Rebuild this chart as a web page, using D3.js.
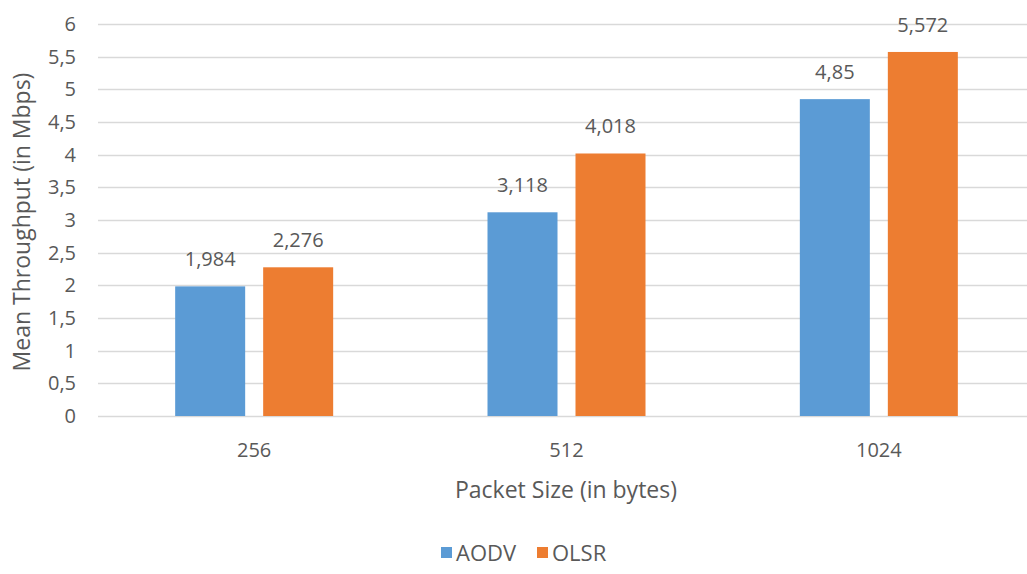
<!DOCTYPE html>
<html>
<head>
<meta charset="utf-8">
<script src="https://cdn.jsdelivr.net/npm/d3@7"></script>
<style>
  html, body { margin: 0; padding: 0; background: #fff; }
  svg { display: block; }
  text { font-family: "Open Sans", "Liberation Sans", sans-serif; fill: #595959; }
</style>
</head>
<body>
<svg id="chart" width="1027" height="574"></svg>
<script>
// Packet sizes on the x axis
const categories = ["256", "512", "1024"];
// Mean throughput per routing protocol (Mbps)
const seriesNames = ["AODV", "OLSR"];
const aodv = [1.984, 3.118, 4.85];
const olsr = [2.276, 4.018, 5.572];
// Labels as printed (decimal comma)
const aodvLabels = ["1,984", "3,118", "4,85"];
const olsrLabels = ["2,276", "4,018", "5,572"];
const yTicks = [0, 0.5, 1, 1.5, 2, 2.5, 3, 3.5, 4, 4.5, 5, 5.5, 6];
const yTickLabels = ["0", "0,5", "1", "1,5", "2", "2,5", "3", "3,5", "4", "4,5", "5", "5,5", "6"];

const colors = { AODV: "#5B9BD5", OLSR: "#ED7D31" };

const svg = d3.select("#chart");
const W = 1027, H = 574;
const plot = { left: 98, right: 1035, top: 24, bottom: 416 };

const x = d3.scaleBand().domain(categories).range([plot.left, plot.right]).paddingInner(0).paddingOuter(0);
const groupWidth = 158;
const xs = d3.scaleBand().domain(seriesNames).range([0, groupWidth]).paddingInner(0.2045);
const y = d3.scaleLinear().domain([0, 6]).range([plot.bottom, plot.top]);

// Horizontal gridlines
svg.append("g").selectAll("line").data(yTicks).join("line")
  .attr("x1", plot.left).attr("x2", W)
  .attr("y1", d => Math.round(y(d)) + 0.5).attr("y2", d => Math.round(y(d)) + 0.5)
  .attr("stroke", "#D9D9D9").attr("stroke-width", 1.5);

// Y tick labels
svg.append("g").selectAll("text").data(yTicks).join("text")
  .attr("x", 76).attr("y", d => y(d))
  .attr("dy", "0.35em").attr("text-anchor", "end")
  .style("font-size", "20px")
  .text((d, i) => yTickLabels[i]);

// Bars and value labels
const rows = categories.map((c, i) => ({
  cat: c,
  vals: [
    { s: "AODV", v: aodv[i], label: aodvLabels[i] },
    { s: "OLSR", v: olsr[i], label: olsrLabels[i] }
  ]
}));

const groups = svg.append("g").selectAll("g").data(rows).join("g")
  .attr("transform", d => `translate(${x(d.cat) + (x.bandwidth() - groupWidth) / 2},0)`);

groups.selectAll("rect").data(d => d.vals).join("rect")
  .attr("x", d => xs(d.s)).attr("width", xs.bandwidth())
  .attr("y", d => y(d.v)).attr("height", d => y(0) - y(d.v))
  .attr("fill", d => colors[d.s]);

groups.selectAll("text").data(d => d.vals).join("text")
  .attr("x", d => xs(d.s) + xs.bandwidth() / 2)
  .attr("y", d => y(d.v) - 20)
  .attr("text-anchor", "middle")
  .style("font-size", "20px")
  .text(d => d.label);

// X category labels
svg.append("g").selectAll("text").data(categories).join("text")
  .attr("x", d => x(d) + x.bandwidth() / 2).attr("y", 450)
  .attr("text-anchor", "middle").attr("dy", "0.35em")
  .style("font-size", "20px")
  .text(d => d);

// Axis titles
svg.append("text")
  .attr("x", 566).attr("y", 490).attr("dy", "0.35em")
  .attr("text-anchor", "middle")
  .style("font-size", "23px")
  .text("Packet Size (in bytes)");

svg.append("text")
  .attr("transform", "translate(22,222) rotate(-90)")
  .attr("dy", "0.35em")
  .attr("text-anchor", "middle")
  .style("font-size", "23px")
  .text("Mean Throughput (in Mbps)");

// Legend
const legend = svg.append("g").attr("transform", "translate(441,553)");
const legendX = [0, 96];
seriesNames.forEach((s, i) => {
  const g = legend.append("g").attr("transform", `translate(${legendX[i]},0)`);
  g.append("rect").attr("x", 0).attr("y", -6).attr("width", 11).attr("height", 11).attr("fill", colors[s]);
  g.append("text").attr("x", 15).attr("y", 0).attr("dy", "0.35em")
    .style("font-size", "22px").text(s);
});
</script>
</body>
</html>
